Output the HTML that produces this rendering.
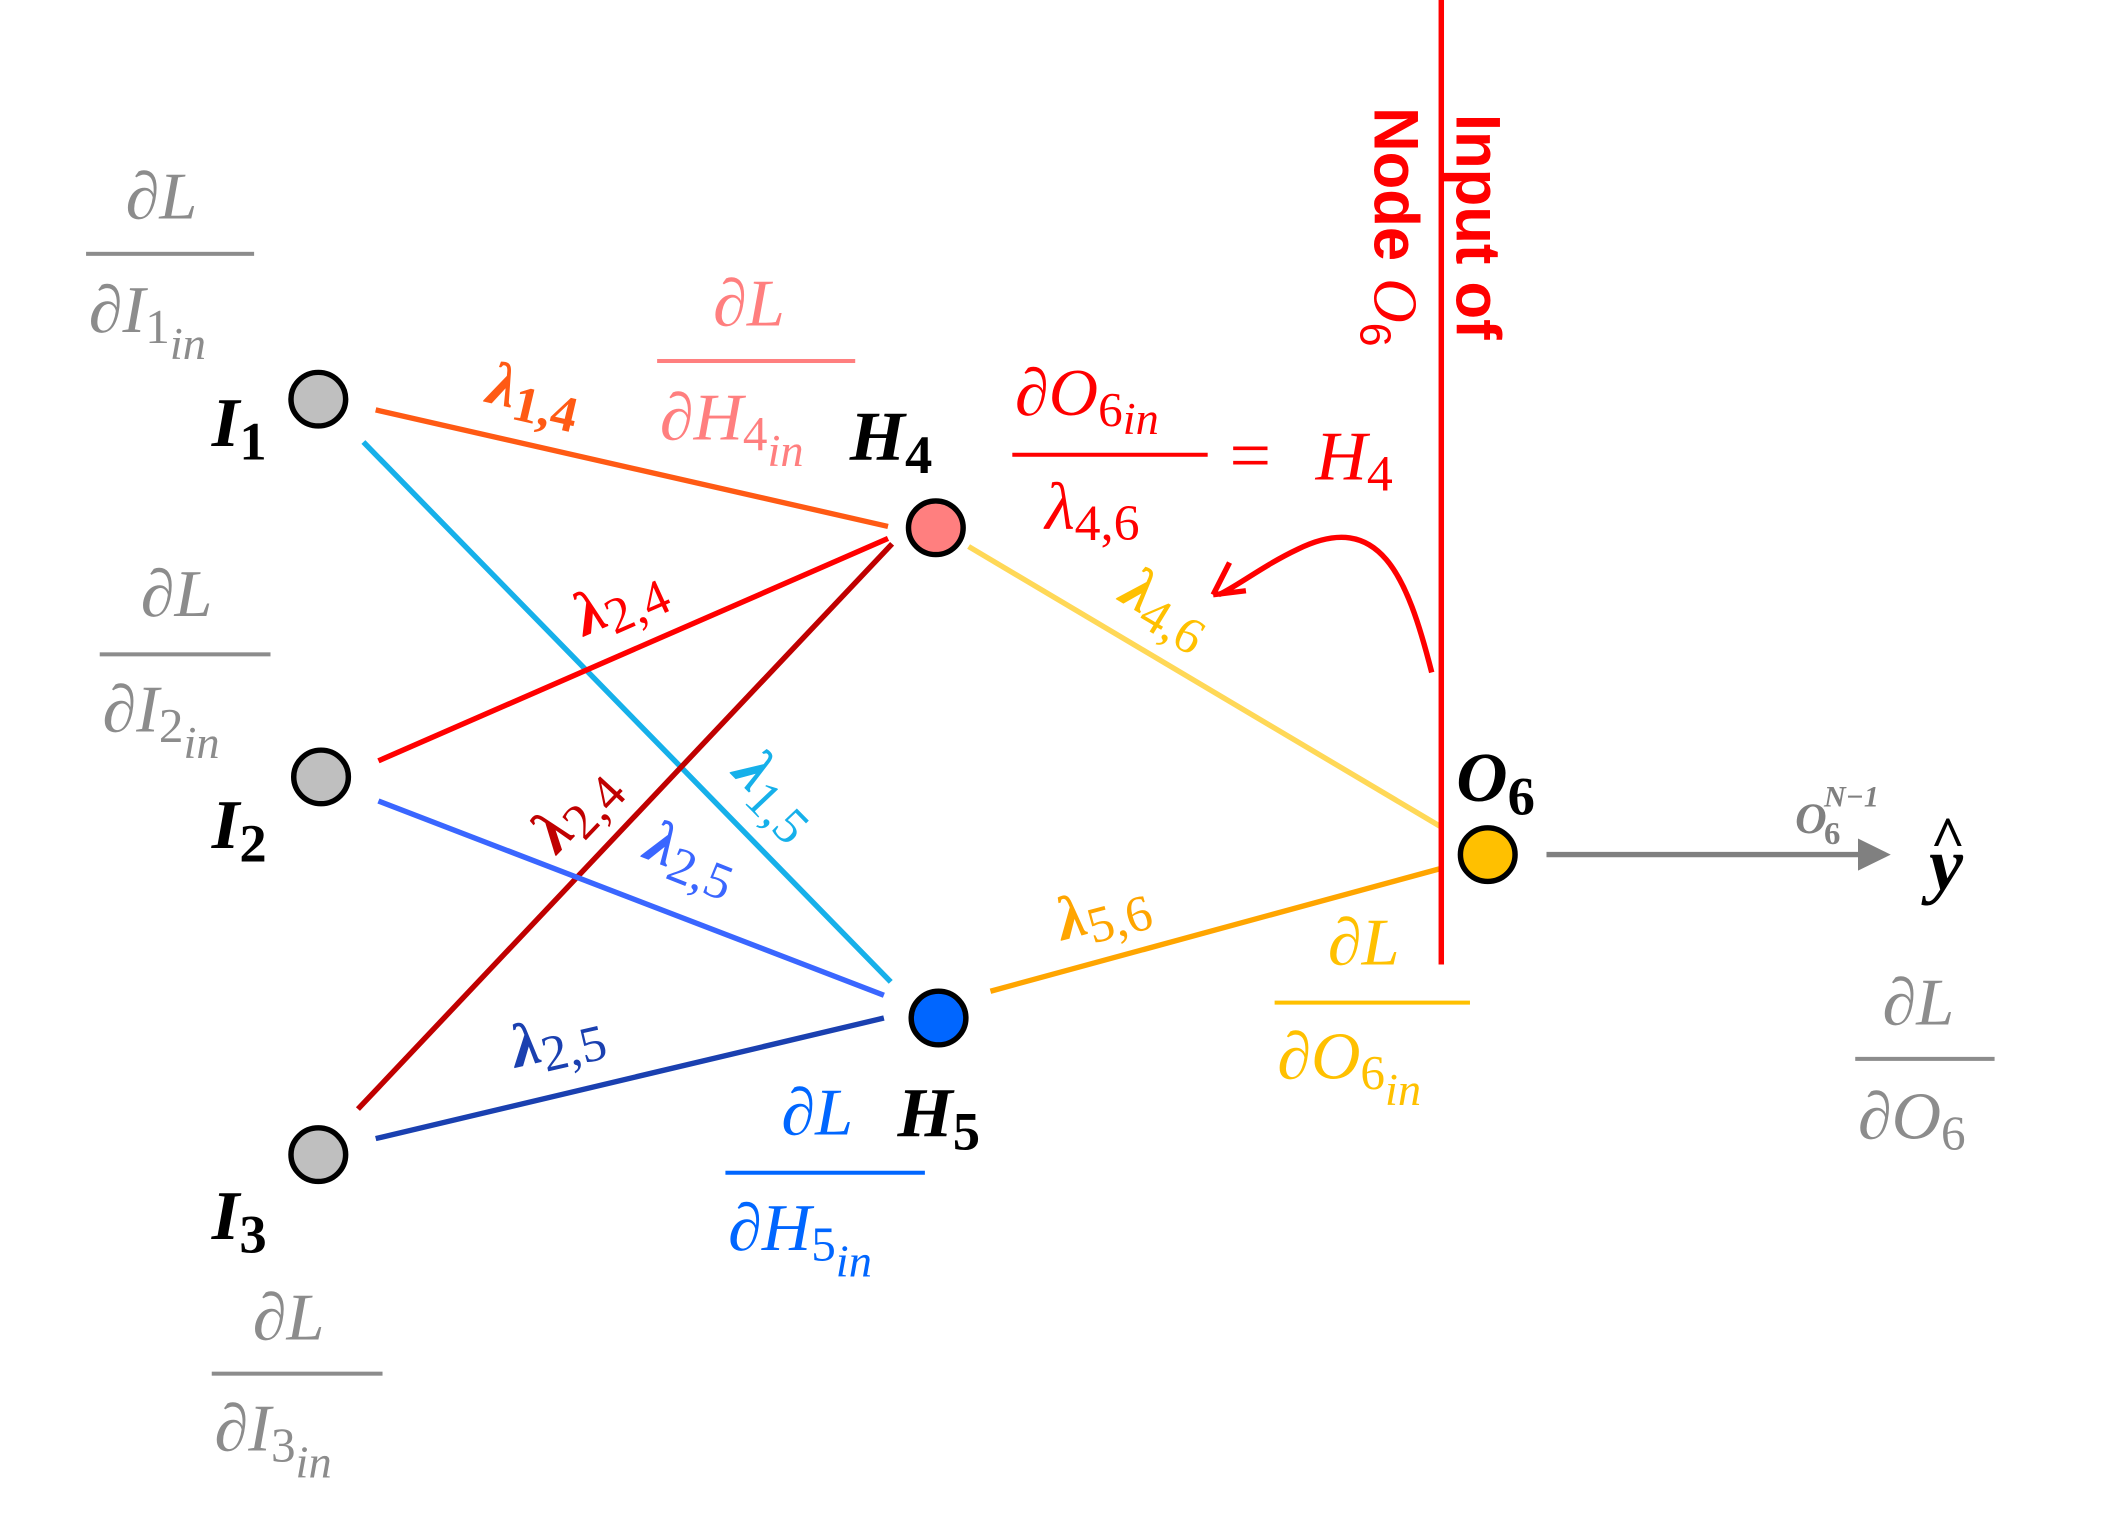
<!DOCTYPE html>
<html><head><meta charset="utf-8">
<style>
html,body{margin:0;padding:0;background:#fff;}
svg{display:block;}
.m{font-family:"Liberation Serif","DejaVu Serif",serif;font-style:italic;}
.b{font-family:"Liberation Serif","DejaVu Serif",serif;font-style:italic;font-weight:bold;}
.s{font-family:"Liberation Sans","DejaVu Sans",sans-serif;font-weight:bold;}
.u{font-style:normal;}
</style></head>
<body>
<svg width="2123" height="1519" viewBox="0 0 1554 1134" preserveAspectRatio="none" xmlns="http://www.w3.org/2000/svg">
<defs>
<marker id="ar" markerWidth="6" markerHeight="6" refX="5" refY="3" orient="auto" markerUnits="strokeWidth"><path d="M0,0 L6,3 L0,6 z" fill="#808080"/></marker>
</defs>
<g stroke-width="4" fill="none">
<line x1="275" y1="306" x2="650" y2="393" stroke="#ff5a14"/>
<line x1="266" y1="330" x2="652" y2="733" stroke="#16b0ea"/>
<line x1="277" y1="568" x2="650" y2="402" stroke="#ff0000"/>
<line x1="262" y1="828" x2="653" y2="406" stroke="#c00000"/>
<line x1="277" y1="598" x2="647" y2="743" stroke="#3a66ff"/>
<line x1="275" y1="850" x2="647" y2="760" stroke="#1a40b0"/>
<line x1="709" y1="408" x2="1056" y2="618" stroke="#ffd857"/>
<line x1="725" y1="740" x2="1056" y2="648" stroke="#ffa500"/>
<line x1="1055" y1="0" x2="1055" y2="720" stroke="#ff0000"/>
<line x1="1132" y1="638" x2="1380" y2="638" stroke="#808080" marker-end="url(#ar)"/>
<path d="M1048,502 C1030,430 1010,380 950,410 C925,422 905,438 892,444" stroke="#ff0000"/>
<path d="M888,444 L900,420 M888,444 L912,441" stroke="#ff0000"/>
</g>
<g stroke="#000" stroke-width="4">
<circle cx="233" cy="298" r="20" fill="#bfbfbf"/>
<circle cx="235" cy="580" r="20" fill="#bfbfbf"/>
<circle cx="233" cy="862" r="20" fill="#bfbfbf"/>
<circle cx="685" cy="394" r="20" fill="#ff7f7f"/>
<circle cx="687" cy="760" r="20" fill="#0066ff"/>
<circle cx="1089" cy="638" r="20" fill="#ffc000"/>
</g>
<g class="b" fill="#000" font-size="52">
<text x="155" y="333">I<tspan class="u" font-size="40" dy="10">1</tspan></text>
<text x="155" y="633">I<tspan class="u" font-size="40" dy="10">2</tspan></text>
<text x="155" y="925">I<tspan class="u" font-size="40" dy="10">3</tspan></text>
<text x="622" y="343">H<tspan class="u" font-size="40" dy="10">4</tspan></text>
<text x="657" y="848">H<tspan class="u" font-size="40" dy="10">5</tspan></text>
<text x="1066" y="598">O<tspan class="u" font-size="40" dy="10">6</tspan></text>
<text x="1412" y="664" font-size="56">y</text>
</g>
<text x="1413" y="640" font-family="Liberation Serif,serif" font-weight="bold" font-size="44" fill="#000">^</text>
<text class="b" x="1314" y="622" font-size="32" fill="#808080">O<tspan class="u" font-size="24" dy="8" dx="-2">6</tspan><tspan font-size="22" dy="-28" dx="-12">N−1</tspan></text>
<g class="b" font-size="46">
<text transform="translate(355,300) rotate(13)" fill="#ff5a14">λ<tspan class="u" font-size="38" dy="8">1,4</tspan></text>
<text transform="translate(428,475) rotate(-24)" fill="#ff0000">λ<tspan class="u" font-weight="normal" font-size="38" dy="8">2,4</tspan></text>
<text transform="translate(408,638) rotate(-47)" fill="#c00000">λ<tspan class="u" font-weight="normal" font-size="38" dy="8">2,4</tspan></text>
<text transform="translate(535,578) rotate(46)" fill="#16b0ea">λ<tspan class="u" font-weight="normal" font-size="38" dy="8">1,5</tspan></text>
<text transform="translate(470,640) rotate(22)" fill="#3a66ff">λ<tspan class="u" font-weight="normal" font-size="38" dy="8">2,5</tspan></text>
<text transform="translate(378,797) rotate(-13)" fill="#1a40b0">λ<tspan class="u" font-weight="normal" font-size="38" dy="8">2,5</tspan></text>
<text transform="translate(818,448) rotate(31)" fill="#ffc000">λ<tspan class="u" font-weight="normal" font-size="38" dy="8">4,6</tspan></text>
<text transform="translate(778,702) rotate(-15)" fill="#ffa500">λ<tspan class="u" font-weight="normal" font-size="38" dy="8">5,6</tspan></text>
</g>
<g class="m" font-size="50">
<g fill="#8c8c8c">
<text x="92" y="163">∂L</text><rect x="63" y="188" width="123" height="3"/>
<text x="65" y="248">∂I<tspan class="u" font-size="36" dy="8">1</tspan><tspan font-size="34" dy="12">in</tspan></text>
<text x="103" y="460">∂L</text><rect x="73" y="487" width="125" height="3"/>
<text x="75" y="546">∂I<tspan class="u" font-size="36" dy="8">2</tspan><tspan font-size="34" dy="12">in</tspan></text>
<text x="185" y="1000">∂L</text><rect x="155" y="1024" width="125" height="3"/>
<text x="157" y="1083">∂I<tspan class="u" font-size="36" dy="8">3</tspan><tspan font-size="34" dy="12">in</tspan></text>
<text x="1378" y="765">∂L</text><rect x="1358" y="789" width="102" height="3"/>
<text x="1360" y="850">∂O<tspan class="u" font-size="36" dy="8">6</tspan></text>
</g>
<g fill="#ff7f7f">
<text x="522" y="243">∂L</text><rect x="481" y="268" width="145" height="3"/>
<text x="483" y="328">∂H<tspan class="u" font-size="36" dy="8">4</tspan><tspan font-size="34" dy="12">in</tspan></text>
</g>
<g fill="#0066ff">
<text x="572" y="847">∂L</text><rect x="531" y="874" width="146" height="3"/>
<text x="533" y="933">∂H<tspan class="u" font-size="36" dy="8">5</tspan><tspan font-size="34" dy="12">in</tspan></text>
</g>
<g fill="#ffc000">
<text x="972" y="720">∂L</text><rect x="933" y="747" width="143" height="3"/>
<text x="935" y="805">∂O<tspan class="u" font-size="36" dy="8">6</tspan><tspan font-size="34" dy="12">in</tspan></text>
</g>
<g fill="#ff0000">
<text x="743" y="310">∂O<tspan class="u" font-size="36" dy="8">6</tspan><tspan font-size="34" dy="6">in</tspan></text>
<rect x="741" y="338" width="143" height="3"/>
<text x="765" y="395">λ<tspan class="u" font-size="38" dy="8">4,6</tspan></text>
<text x="900" y="358" font-style="normal" font-size="54">=</text>
<text x="963" y="358" font-size="52">H<tspan class="u" font-size="38" dy="8">4</tspan></text>
</g>
</g>
<g fill="#ff0000">
<text class="s" transform="translate(1066,85) rotate(90)" font-size="46">Input of</text>
<text class="s" transform="translate(1006,80) rotate(90)" font-size="46">Node <tspan class="m" font-weight="normal">O</tspan><tspan class="u" font-weight="normal" font-size="32" dy="10">6</tspan></text>
</g>
</svg>
</body></html>
